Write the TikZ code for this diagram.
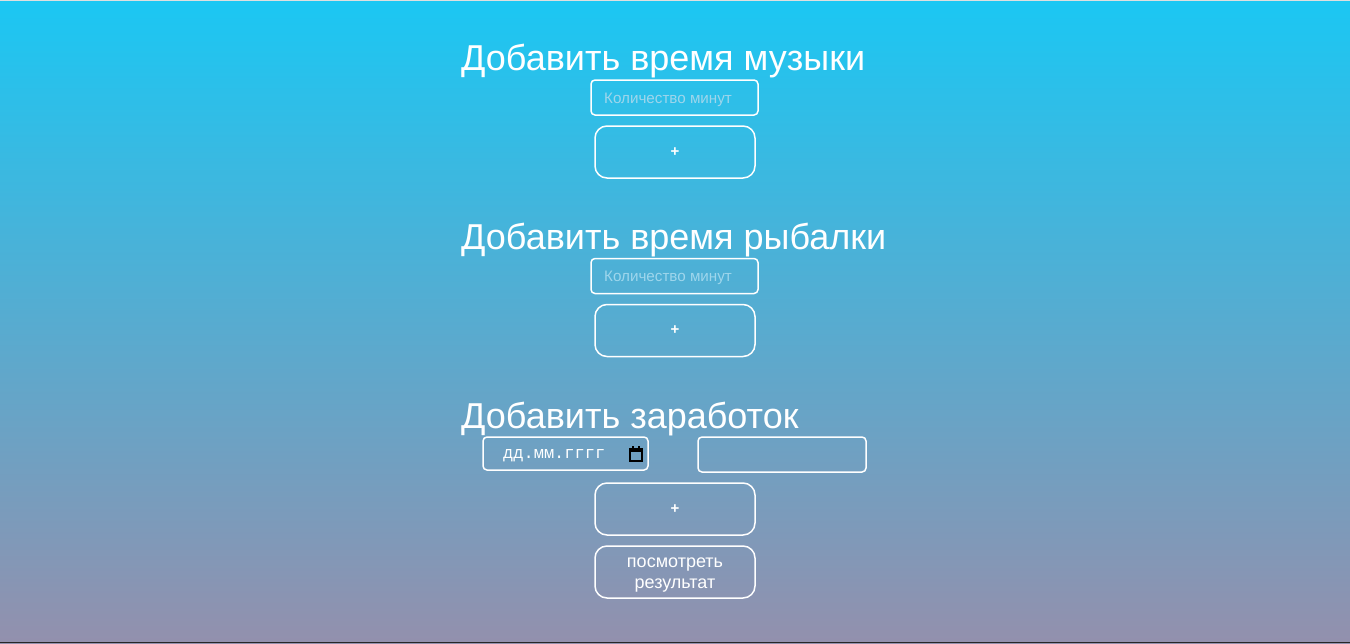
\documentclass[tikz,border=0pt]{standalone}
\usepackage{fontspec}
\setmainfont{Liberation Sans}
\newfontfamily\monofont{Liberation Mono}
\definecolor{cielo}{RGB}{27,199,243}
\definecolor{lila}{RGB}{147,144,173}
\definecolor{pista}{RGB}{158,214,236}
\begin{document}
\begin{tikzpicture}[x=1pt, y=-1pt,
    titulo/.style={anchor=base west, inner sep=0pt, text=white, font=\fontsize{36}{42}\selectfont},
    campo/.style={draw=white, line width=1.5pt, rounded corners=4pt, minimum width=167pt, minimum height=35pt, inner sep=0pt},
    boton/.style={draw=white, line width=1.5pt, rounded corners=12pt, minimum width=160pt, minimum height=52pt, inner sep=0pt, text=white, align=center, font=\fontsize{15}{17}\selectfont\bfseries},
    ayuda/.style={anchor=west, inner sep=0pt, text=pista, font=\fontsize{15.2}{18}\selectfont}]
    % Fondo
    \shade[top color=cielo, bottom color=lila] (0,0) rectangle (1350,643);
    \fill[gray!25] (0,0) rectangle (1350,1);
    \fill[black!85] (0,642) rectangle (1350,643);

    % Musica
    \node[titulo] (tituloMusica) at (461,70) {Добавить время музыки};
    \node[campo] (campoMusica) at (674.5,97.5) {};
    \node[ayuda] (ayudaMusica) at (604,99.5) {Количество минут};
    \node[boton] (botonMusica) at (675,152) {\raisebox{-1pt}{+}};

    % Pesca
    \node[titulo] (tituloPesca) at (461,249) {Добавить время рыбалки};
    \node[campo] (campoPesca) at (674.5,276) {};
    \node[ayuda] (ayudaPesca) at (604,278) {Количество минут};
    \node[boton] (botonPesca) at (675,330.5) {\raisebox{-1pt}{+}};

    % Ganancia
    \node[titulo] (tituloGanancia) at (461,428) {Добавить заработок};
    \node[campo, minimum width=165pt, minimum height=33pt] (campoFecha) at (565.5,453.5) {};
    \node[anchor=west, inner sep=0pt, text=white, font=\monofont\fontsize{17}{20}\selectfont] (textoFecha) at (503,456) {дд.мм.гггг};
    \node[campo, minimum width=168pt] (campoSuma) at (782,454.5) {};
    \node[boton] (botonGanancia) at (675,509) {\raisebox{-1pt}{+}};
    \node[boton] (botonResultado) at (675,572) {};
    \node[align=center, inner sep=0pt, text=white, font=\fontsize{18}{21}\selectfont] (textoResultado) at ([yshift=-3pt]botonResultado.center) {посмотреть\\результат};

    % Icono calendario
    \draw[black, line width=1.5pt] (630,449) rectangle (642,461);
    \fill[black] (629.3,448) rectangle (642.7,452);
    \fill[black] (632,445.5) rectangle (633.6,448.5);
    \fill[black] (638.4,445.5) rectangle (640,448.5);
\end{tikzpicture}
\end{document}
